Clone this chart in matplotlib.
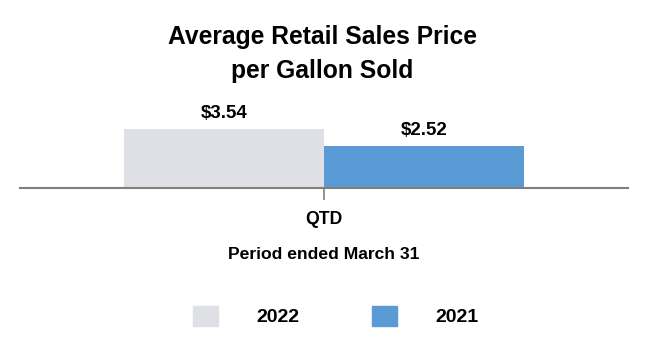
import matplotlib
matplotlib.use("Agg")
import matplotlib.pyplot as plt
from matplotlib.patches import Patch

categories = ["QTD"]
series_names = ["2022", "2021"]
values_2022 = [3.54]
values_2021 = [2.52]
colors = ["#DFE0E5", "#5B9BD5"]

plt.rcParams['font.family'] = ['Liberation Sans', 'DejaVu Sans']

fig = plt.figure(figsize=(6.48, 3.6), dpi=100)
ax = fig.add_axes([20/648, (360-188)/360, 608/648, 67/360])

w = 0.5
b1 = ax.bar([-0.25], values_2022, width=w, color=colors[0], label=series_names[0])
b2 = ax.bar([0.25], values_2021, width=w, color=colors[1], label=series_names[1])
for bars, vals in ((b1, values_2022), (b2, values_2021)):
    for r, v in zip(bars, vals):
        ax.annotate(f"${v:.2f}", (r.get_x() + r.get_width()/2, v), xytext=(0, 8),
                    textcoords="offset points", ha="center", va="baseline",
                    fontsize=13.5, fontweight="bold")

ax.set_xlim(-0.76, 0.76)
ax.set_ylim(0, 4)
for s in ["top", "right", "left"]:
    ax.spines[s].set_visible(False)
ax.spines["bottom"].set_color("#7f7f7f")
ax.spines["bottom"].set_linewidth(1.5)
ax.set_yticks([])
ax.set_xticks([0])
ax.set_xticklabels(categories, fontsize=12.7, fontweight="bold")
ax.tick_params(axis="x", length=8.5, width=1.2, color="#7f7f7f", pad=8)

fig.text(0.497, 1 - 44/360, "Average Retail Sales Price", ha="center", va="baseline",
         fontsize=17.7, fontweight="bold")
fig.text(0.497, 1 - 78/360, "per Gallon Sold", ha="center", va="baseline",
         fontsize=17.7, fontweight="bold")
fig.text(0.5, 1 - 259/360, "Period ended March 31", ha="center", va="baseline",
         fontsize=12.6, fontweight="bold")

handles = [Patch(color=colors[0]), Patch(color=colors[1])]
fig.legend(handles, series_names, loc="center", bbox_to_anchor=(0.5 + 12/648, 1 - 316/360), ncol=2,
           frameon=False, prop={"size": 14, "weight": "bold"}, handlelength=1.24,
           handleheight=1.24, handletextpad=2.0, columnspacing=3.75)

fig.savefig("out.png", dpi=100)
